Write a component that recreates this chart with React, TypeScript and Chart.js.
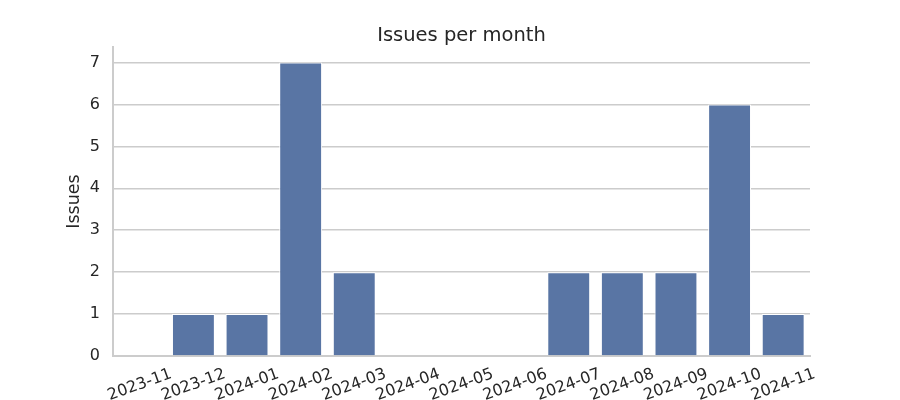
import React, { useEffect, useRef } from "react";
import { Chart, registerables } from "chart.js";

Chart.register(...registerables);

const months = [
  "2023-11", "2023-12", "2024-01", "2024-02", "2024-03", "2024-04", "2024-05",
  "2024-06", "2024-07", "2024-08", "2024-09", "2024-10", "2024-11",
];
const issues = [0, 1, 1, 7, 2, 0, 0, 0, 2, 2, 2, 6, 1];
const yTicks = [0, 1, 2, 3, 4, 5, 6, 7];

const FONT = '"DejaVu Sans", sans-serif';
const TEXT = "#262626";
const GRID = "#cccccc";
const TICK_SIZE = 16;

const xLabelPlugin = {
  id: "xLabels",
  afterDraw(chart: any) {
    const xs = chart.scales.x;
    const ctx = chart.ctx;
    ctx.save();
    ctx.font = `${TICK_SIZE}px ${FONT}`;
    ctx.fillStyle = TEXT;
    ctx.textAlign = "center";
    ctx.textBaseline = "middle";
    months.forEach((m, i) => {
      const x = xs.getPixelForValue(i);
      ctx.save();
      ctx.translate(x, xs.top + 29);
      ctx.rotate((-20 * Math.PI) / 180);
      ctx.fillText(m, 0, 0);
      ctx.restore();
    });
    ctx.restore();
  },
};

export default function App() {
  const ref = useRef<HTMLCanvasElement>(null);
  useEffect(() => {
    document.body.style.margin = "0";
    const chart = new Chart(ref.current!, {
      type: "bar",
      data: {
        labels: months,
        datasets: [
          {
            data: issues,
            backgroundColor: "#5975a4",
            borderColor: "#ffffff",
            borderWidth: 1,
            categoryPercentage: 0.8,
            barPercentage: 1,
          },
        ],
      },
      plugins: [xLabelPlugin],
      options: {
        responsive: false,
        animation: false,
        layout: { padding: { left: 0, right: 90, top: 0, bottom: 0 } },
        plugins: {
          legend: { display: false },
          tooltip: { enabled: false },
          title: {
            display: true,
            text: "Issues per month",
            fullSize: false,
            color: TEXT,
            font: { family: FONT, size: 19.5, weight: "normal" as any, lineHeight: 1.0 },
            padding: { top: 26.25, bottom: 1.25 },
          },
        },
        scales: {
          x: {
            offset: true,
            grid: { display: false, drawTicks: false },
            border: { display: true, color: GRID, width: 2 },
            ticks: { display: false },
            afterFit: (s: any) => {
              s.height = 44;
            },
          },
          y: {
            min: 0,
            max: 7.37,
            grid: { color: GRID, lineWidth: 1.5, drawTicks: false },
            border: { display: true, color: GRID, width: 2 },
            ticks: {
              stepSize: 1,
              padding: 13,
              color: TEXT,
              font: { family: FONT, size: TICK_SIZE },
            },
            afterBuildTicks: (s: any) => {
              s.ticks = yTicks.map((v) => ({ value: v }));
            },
            title: {
              display: true,
              text: "Issues",
              color: TEXT,
              font: { family: FONT, size: 17.5, lineHeight: 1.2 },
              padding: { top: 64, bottom: 0 },
            },
            afterFit: (s: any) => {
              s.width = 113;
            },
          },
        },
      },
    });
    return () => chart.destroy();
  }, []);
  return <canvas ref={ref} width={900} height={400} style={{ display: "block" }} />;
}
